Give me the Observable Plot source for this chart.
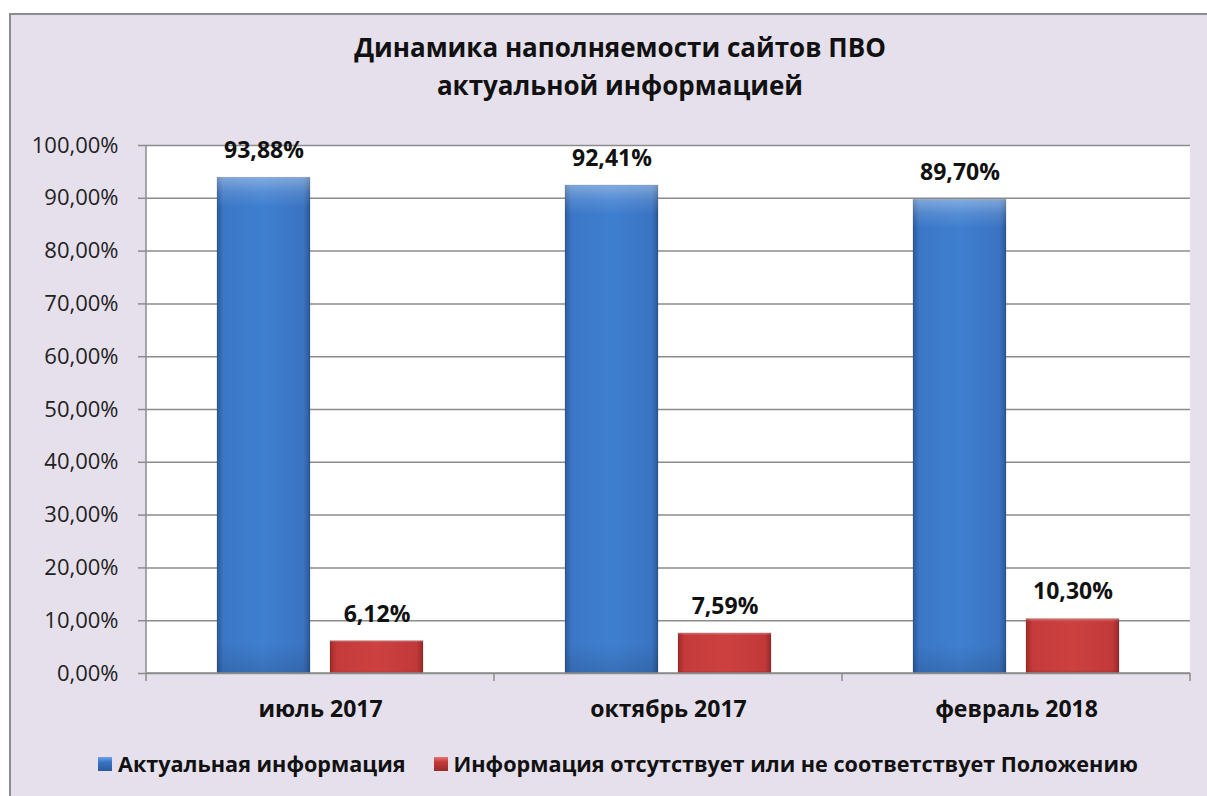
<!DOCTYPE html>
<html>
<head>
<meta charset="utf-8">
<script src="https://cdn.jsdelivr.net/npm/d3@7"></script>
<script src="https://cdn.jsdelivr.net/npm/@observablehq/plot@0.6"></script>
<style>
  html, body { margin: 0; padding: 0; background: #ffffff; width: 1207px; height: 796px; overflow: hidden; }
  #frame { position: absolute; left: 9px; top: 13px; width: 1230px; height: 810px;
           background: #E5E0EC; border-left: 2px solid #8c8c8c; border-top: 2px solid #8c8c8c; }
  #title { position: absolute; left: 0; top: 28px; width: 1240px; text-align: center;
           font-family: "Open Sans", sans-serif; font-weight: 700; font-size: 26px; line-height: 38px; color: #111; }
  #chart { position: absolute; left: 0; top: 120px; }
  #legend { position: absolute; left: 0; top: 749px; width: 1236px; display: flex; justify-content: center; align-items: center;
            font-family: "Open Sans", sans-serif; font-weight: 700; font-size: 21.6px; color: #111; }
  .item { display: flex; align-items: center; margin: 0 14px; }
  .sw { width: 14px; height: 14px; margin-right: 6px; }
</style>
</head>
<body>
<div id="frame"></div>
<div id="title">Динамика наполняемости сайтов ПВО<br>актуальной информацией</div>
<div id="chart"></div>
<div id="legend"></div>
<script>
const categories = ["июль 2017", "октябрь 2017", "февраль 2018"];
const seriesNames = ["Актуальная информация", "Информация отсутствует или не соответствует Положению"];
const actualValues = [93.88, 92.41, 89.70];
const missingValues = [6.12, 7.59, 10.30];
const yTicks = [0, 10, 20, 30, 40, 50, 60, 70, 80, 90, 100];

const table = [];
categories.forEach((c, i) => {
  table.push({category: c, series: seriesNames[0], value: actualValues[i]});
  table.push({category: c, series: seriesNames[1], value: missingValues[i]});
});

const pct = v => d3.format(".2f")(v).replace(".", ",") + "%";
const font = '"Open Sans", sans-serif';

// Decoration drawn once across the whole plot (facet "super")
function decor(kind) {
  return Plot.frame({
    facet: "super",
    render: (index, scales, values, dims) => {
      const {fx, y} = scales;
      const x0 = dims.marginLeft, x1 = dims.width - dims.marginRight;
      const yTop = y(100), yBot = y(0);
      const g = d3.create("svg:g");
      if (kind === "bg") {
        g.append("rect").attr("x", x0).attr("y", yTop).attr("width", x1 - x0).attr("height", yBot - yTop).attr("fill", "#ffffff");
      } else {
        const stroke = "#8c8c8c";
        g.append("line").attr("x1", x0).attr("x2", x0).attr("y1", yTop).attr("y2", yBot).attr("stroke", stroke).attr("stroke-width", 1.5);
        g.append("line").attr("x1", x0).attr("x2", x1).attr("y1", yBot).attr("y2", yBot).attr("stroke", stroke).attr("stroke-width", 1.5);
        const edges = categories.map(c => fx(c)).concat([fx(categories[categories.length - 1]) + fx.bandwidth()]);
        edges.forEach(e => {
          g.append("line").attr("x1", e).attr("x2", e).attr("y1", yBot).attr("y2", yBot + 8).attr("stroke", stroke).attr("stroke-width", 1.5);
        });
      }
      return g.node();
    }
  });
}

const chart = Plot.plot({
  width: 1207,
  height: 610,
  marginTop: 25,
  marginBottom: 57,
  marginLeft: 145,
  marginRight: 17,
  style: {background: "transparent", fontFamily: font, color: "#111"},
  fx: {domain: categories, padding: 0, label: null},
  x: {domain: seriesNames, paddingInner: 0.177, paddingOuter: 0.628, axis: null},
  y: {domain: [0, 100], label: null},
  color: {domain: seriesNames, range: ["url(#gradBlue)", "url(#gradRed)"]},
  marks: [
    decor("bg"),
    Plot.gridY(yTicks, {stroke: "#8c8c8c", strokeOpacity: 1, strokeWidth: 1.5}),
    Plot.barY(table, {fx: "category", x: "series", y: "value", fill: "series", stroke: "rgba(0,0,0,0.15)", strokeWidth: 1}),
    Plot.barY(table, {fx: "category", x: "series", y: "value", fill: "url(#gradTop)"}),
    decor("axes"),
    Plot.text(table, {fx: "category", x: "series", y: "value", text: d => pct(d.value), dy: -27,
      fontWeight: 700, fontSize: 23, fill: "#111"}),
    Plot.axisY(yTicks, {tickSize: 8, tickPadding: 20, tickFormat: pct, fontSize: 22, stroke: "#8c8c8c", strokeWidth: 1.5, fill: "#222", label: null}),
    Plot.axisFx({anchor: "bottom", tickSize: 0, tickPadding: 27, fontSize: 23, fontWeight: 700, label: null, fill: "#111"})
  ]
});

// gradients for the bevelled bars
const defs = d3.select(chart).insert("defs", ":first-child");
function grad(id, stops, vertical) {
  const lg = defs.append("linearGradient").attr("id", id)
    .attr("x1", "0").attr("x2", vertical ? "0" : "1").attr("y1", "0").attr("y2", vertical ? "1" : "0");
  stops.forEach(([o, c, op]) => lg.append("stop").attr("offset", o).attr("stop-color", c).attr("stop-opacity", op == null ? 1 : op));
}
grad("gradBlue", [[0, "#2c5a9a"], [0.07, "#3b77c6"], [0.5, "#3f7fd0"], [0.93, "#3a74c2"], [1, "#2b5896"]]);
grad("gradRed", [[0, "#9e2b2b"], [0.07, "#c53a3a"], [0.5, "#cc4040"], [0.93, "#c23939"], [1, "#9a2a2a"]]);
grad("gradTop", [[0, "#ffffff", 0.35], [0.03, "#ffffff", 0.12], [0.06, "#ffffff", 0], [0.94, "#000000", 0], [1, "#000000", 0.12]], true);
document.getElementById("chart").appendChild(chart);

// legend
const legend = d3.select("#legend");
const swatchBg = ["linear-gradient(180deg,#6fa4e6 0%,#3a76c4 35%,#2a5a9c 100%)", "linear-gradient(180deg,#e57373 0%,#c53a3a 35%,#9a2a2a 100%)"];
seriesNames.forEach((s, i) => {
  const it = legend.append("div").attr("class", "item");
  it.append("div").attr("class", "sw").style("background", swatchBg[i]);
  it.append("span").text(s);
});
</script>
</body>
</html>
